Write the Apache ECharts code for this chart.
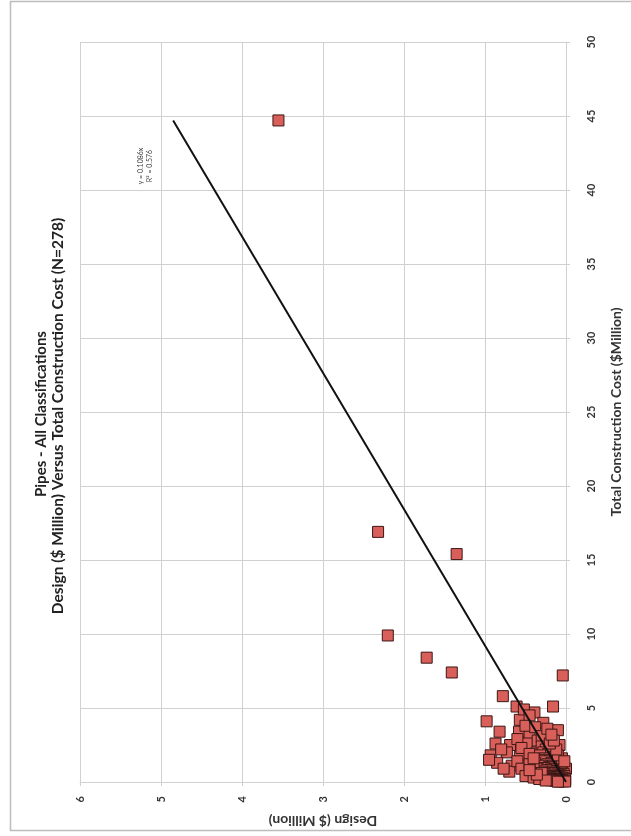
<!DOCTYPE html>
<html>
<head>
<meta charset="utf-8">
<script src="https://cdn.jsdelivr.net/npm/echarts@6/dist/echarts.min.js"></script>
<style>
html,body{margin:0;padding:0;background:#fff;}
#chart{width:631px;height:836px;}
</style>
</head>
<body>
<div id="chart"></div>
<script>
// Chart texts
const titleLine1 = 'Pipes - All Classifications';
const titleLine2 = 'Design ($ Million) Versus Total Construction Cost (N=278)';
const xAxisName = 'Total Construction Cost ($Million)';
const yAxisName = 'Design ($ Million)';
const trendLabel1 = 'y = 0.1086x';
const trendLabel2 = 'R² = 0.576';

// Tick settings
const costTicks = [0, 5, 10, 15, 20, 25, 30, 35, 40, 45, 50];
const designTicks = [0, 1, 2, 3, 4, 5, 6];

// Data: total construction cost ($M) and design cost ($M)
const constructionCost = [
  44.7, 16.9, 15.4, 9.9, 8.4, 7.4, 7.2, 5.8, 5.1, 5.1,
  4.7, 4.1, 4.2, 4.0, 3.4, 3.4, 3.3, 3.5, 3.0, 2.6,
  2.5, 2.6, 2.5, 1.8, 2.0, 1.7, 2.0, 1.3, 1.1, 1.1,
  0.7, 0.7, 0.3, 0.9, 4.9, 4.5, 3.8, 3.7, 2.9, 2.2,
  1.5, 0.9, 1.4, 2.3, 1.9, 2.8, 3.1, 3.6,
  2.4, 2.2, 2.1, 2.0, 1.9, 1.8, 1.7, 1.6, 1.5, 1.5,
  1.4, 1.4, 1.3, 1.3, 1.2, 1.2, 1.1, 1.1, 1.0, 1.0,
  0.95, 0.9, 0.9, 0.85, 0.8, 0.8, 0.75, 0.7, 0.7, 0.65,
  0.6, 0.6, 0.55, 0.5, 0.5, 0.5, 0.45, 0.4, 0.4, 0.4,
  0.35, 0.35, 0.3, 0.3, 0.3, 0.25, 0.25, 0.2, 0.2, 0.2,
  0.18, 0.15, 0.15, 0.12, 0.1, 0.1, 0.08, 0.05, 0.05, 0.03,
  0.02, 1.6, 1.8, 2.2, 2.6, 2.8, 3.2, 1.0, 0.6, 0.9,
  0.4, 0.3, 0.2, 0.6, 1.2, 1.6, 0.1, 0.5, 0.8, 1.4
];
const designCost = [
  3.55, 2.32, 1.35, 2.2, 1.72, 1.41, 0.04, 0.78, 0.16, 0.61,
  0.39, 0.98, 0.57, 0.28, 0.82, 0.58, 0.45, 0.10, 0.22, 0.87,
  0.69, 0.48, 0.08, 0.93, 0.73, 0.57, 0.36, 0.85, 0.67, 0.48,
  0.70, 0.39, 0.34, 0.0, 0.52, 0.45, 0.50, 0.38, 0.60, 0.80,
  0.95, 0.77, 0.60, 0.55, 0.45, 0.35, 0.30, 0.23,
  0.30, 0.25, 0.18, 0.28, 0.22, 0.32, 0.15, 0.26, 0.20, 0.33,
  0.12, 0.27, 0.18, 0.38, 0.23, 0.10, 0.30, 0.16, 0.21, 0.08,
  0.27, 0.13, 0.35, 0.19, 0.05, 0.24, 0.11, 0.29, 0.17, 0.07,
  0.21, 0.14, 0.03, 0.26, 0.10, 0.18, 0.06, 0.22, 0.13, 0.02,
  0.16, 0.09, 0.28, 0.05, 0.12, 0.19, 0.03, 0.08, 0.15, 0.24,
  0.01, 0.11, 0.05, 0.18, 0.02, 0.09, 0.13, 0.04, 0.07, 0.01,
  0.10, 0.05, 0.10, 0.12, 0.20, 0.15, 0.18, 0.40, 0.42, 0.55,
  0.50, 0.40, 0.33, 0.30, 0.45, 0.40, 0.25, 0.36, 0.45, 0.02
];

// Linear trend line end points (construction, design)
const trendCost = [0, 44.7];
const trendDesign = [0, 4.85];

const points = constructionCost.map((c, i) => [designCost[i], c]);
const trendPoints = trendCost.map((c, i) => [trendDesign[i], c]);

const chart = echarts.init(document.getElementById('chart'), null, {renderer: 'canvas'});
const FONT = 'Lato, "Open Sans", sans-serif';
const gridColor = '#d0d0d0';

chart.setOption({
  backgroundColor: '#ffffff',
  animation: false,
  grid: {left: 80, right: 56, top: 42, bottom: 54, containLabel: false},
  xAxis: {
    type: 'value',
    inverse: true,
    min: designTicks[0],
    max: designTicks[designTicks.length - 1],
    interval: 1,
    position: 'bottom',
    name: yAxisName,
    nameLocation: 'middle',
    nameRotate: 180,
    nameGap: 32,
    nameTextStyle: {fontFamily: FONT, fontSize: 14, fontWeight: 'bold', color: '#333'},
    axisLine: {show: true, lineStyle: {color: gridColor, width: 1}},
    axisTick: {show: true, length: 4, lineStyle: {color: gridColor}},
    axisLabel: {rotate: 90, margin: 14, fontFamily: FONT, fontSize: 11, fontWeight: 'bold', color: '#333'},
    splitLine: {show: true, lineStyle: {color: gridColor, width: 1}}
  },
  yAxis: {
    type: 'value',
    min: costTicks[0],
    max: costTicks[costTicks.length - 1],
    interval: 5,
    position: 'right',
    name: xAxisName,
    nameLocation: 'middle',
    nameRotate: 90,
    nameGap: 43,
    nameTextStyle: {fontFamily: FONT, fontSize: 14, fontWeight: 'bold', color: '#333'},
    axisLine: {show: true, lineStyle: {color: gridColor, width: 1}},
    axisTick: {show: true, length: 4, lineStyle: {color: gridColor}},
    axisLabel: {rotate: 90, margin: 20, fontFamily: FONT, fontSize: 11, fontWeight: 'bold', color: '#333'},
    splitLine: {show: true, lineStyle: {color: gridColor, width: 1}}
  },
  series: [
    {
      type: 'scatter',
      data: points,
      symbol: 'rect',
      symbolSize: 11,
      itemStyle: {color: '#d9605a', borderColor: '#3b1614', borderWidth: 1, opacity: 1},
      z: 2
    },
    {
      type: 'line',
      data: trendPoints,
      symbol: 'none',
      lineStyle: {color: '#111', width: 2},
      z: 3
    }
  ],
  graphic: [
    {type: 'rect', shape: {x: 10.5, y: 1.5, width: 640, height: 829}, style: {fill: 'none', stroke: '#bdbdbd', lineWidth: 1.5}, silent: true, z: -1},
    {type: 'text', x: 41, y: 414, rotation: Math.PI / 2,
      style: {text: titleLine1, align: 'center', verticalAlign: 'middle', font: 'bold 15px ' + FONT, fill: '#222'}},
    {type: 'text', x: 58, y: 416, rotation: Math.PI / 2,
      style: {text: titleLine2, align: 'center', verticalAlign: 'middle', font: 'bold 15.5px ' + FONT, fill: '#222'}},
    {type: 'text', x: 141, y: 166, rotation: Math.PI / 2,
      style: {text: trendLabel1, align: 'center', verticalAlign: 'middle', font: '7px ' + FONT, fill: '#444'}},
    {type: 'text', x: 150, y: 166, rotation: Math.PI / 2,
      style: {text: trendLabel2, align: 'center', verticalAlign: 'middle', font: '7px ' + FONT, fill: '#444'}}
  ]
});
</script>
</body>
</html>
